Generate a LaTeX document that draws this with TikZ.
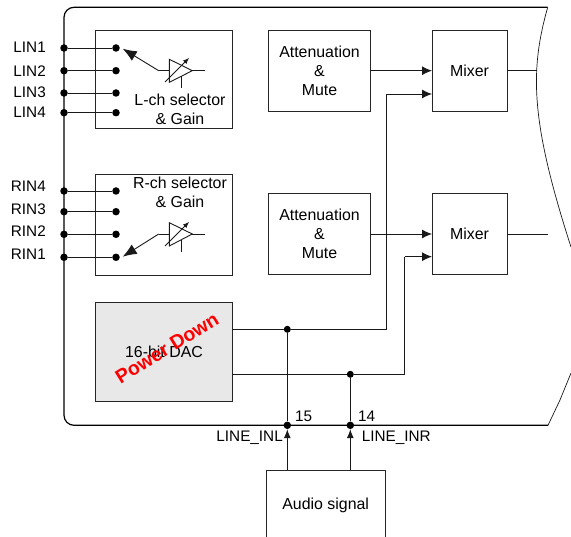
\documentclass[tikz,border=0pt]{standalone}
\usepackage{fontspec}
\setmainfont{Liberation Sans}
\usetikzlibrary{arrows.meta}
\tikzset{
  px/.style={x=1pt,y=-1pt},
  blockbox/.style={draw=black!85,line width=0.9pt,anchor=north west,inner sep=0pt,outer sep=0pt,align=center},
  lbl/.style={font=\fontsize{15.3}{19}\selectfont,inner sep=0pt,align=center},
  blk/.style={font=\fontsize{15.9}{19}\selectfont,inner sep=0pt,align=center},
  wire/.style={draw=black!90,line width=0.9pt},
  sig/.style={wire,-{Latex[length=10pt,width=9pt]}},
  sigup/.style={wire,-{Latex[length=9pt,width=7pt]}},
  selarrow/.style={wire,-{Latex[length=14pt,width=11pt]}},
  gainarrow/.style={wire,-{Latex[length=6pt,width=5pt]}},
  dotn/.style={circle,fill=black,inner sep=0pt,minimum size=7.5pt},
  frame/.style={draw=black,line width=1.2pt}
}
\begin{document}
\begin{tikzpicture}[px]
\useasboundingbox (0,0) rectangle (571,537);
% frame
\coordinate (tr) at (547.7,7.3);
\coordinate (br) at (548,425.3);
\draw[frame,rounded corners=10pt] (tr) -- (64,7.3) -- (64,425.3) -- (br);
\draw[wire,line width=0.7pt] (tr) .. controls (530,70) and (530,120) .. (571,247);
\draw[wire,line width=0.7pt] (br) -- (560,400) -- (571,373);
% blocks
\node[blockbox,minimum width=136.6pt,minimum height=97.3pt] (lsel) at (95.7,30.7) {};
\node[blockbox,minimum width=136.6pt,minimum height=101.3pt] (rsel) at (95.7,174) {};
\node[blockbox,minimum width=101.7pt,minimum height=80.7pt] (att1) at (268.3,30.3) {};
\node[blockbox,minimum width=102.4pt,minimum height=81.3pt] (att2) at (268.3,193) {};
\node[blockbox,minimum width=75pt,minimum height=81pt] (mix1) at (432,30) {};
\node[blockbox,minimum width=75pt,minimum height=81.3pt] (mix2) at (432,193) {};
\node[blockbox,fill=black!9,minimum width=136.3pt,minimum height=99pt] (dac) at (95.7,302.3) {};
\node[blockbox,minimum width=118.3pt,minimum height=70pt] (aud) at (266.7,470.3) {};
% text in blocks
\node[blk] at (180,109.5) {L-ch selector\\\& Gain};
\node[blk] at (180,192.5) {R-ch selector\\\& Gain};
\node[blk] at (319.5,70.7) {Attenuation\\\&\\Mute};
\node[blk] at (319.5,233.7) {Attenuation\\\&\\Mute};
\node[blk] at (469.5,70.7) {Mixer};
\node[blk] at (469.5,233.7) {Mixer};
\node[blk] at (164,351.5) {16-bit DAC};
\node[blk] at (325.7,505) {Audio signal};
\node[lbl,font=\fontsize{19.5}{24}\bfseries\selectfont,text=red,rotate=31.5] at (167,348) {Power Down};
% left inputs
\foreach \n/\y/\ly/\t in {a/48/47.5/LIN1,b/70.7/70.7/LIN2,c/93/92.5/LIN3,d/112.7/112/LIN4,e/191/186.7/RIN4,f/211.7/209/RIN3,g/234.3/231/RIN2,h/257.3/254/RIN1}{
  \node[dotn] (o\n) at (64,\y) {};
  \node[dotn] (i\n) at (116,\y) {};
  \draw[wire] (o\n) -- (i\n);
  \node[lbl,anchor=east] at (46,\ly) {\t};
}
% amp L
\coordinate (la) at (169.3,59.3);\coordinate (lb) at (169.3,82.3);\coordinate (lc) at (192.3,70.7);
\draw[wire] (la) -- (lb) -- (lc) -- cycle;
\coordinate (lin) at (158.7,70.7);\coordinate (lout) at (204.7,70.7);
\draw[wire] (lin) -- (la |- lin) (lc) -- (lout);
\draw[gainarrow] (165,82) -- (189,58);
\draw[wire] (181,76) -- (181,87.7);
\draw[selarrow] (lin) -- (122.7,48.7);
% amp R
\coordinate (ra) at (169.3,222.7);\coordinate (rb) at (169.3,246);\coordinate (rc) at (192.3,234);
\draw[wire] (ra) -- (rb) -- (rc) -- cycle;
\coordinate (rin) at (158.7,234);\coordinate (rout) at (204.7,234);
\draw[wire] (rin) -- (ra |- rin) (rc) -- (rout);
\draw[gainarrow] (165,246) -- (189,222);
\draw[wire] (181,240) -- (181,251.7);
\draw[selarrow] (rin) -- (122.7,256.7);
% attenuation to mixer
\draw[sig] (att1.east |- 0,70.7) -- (mix1.west |- 0,70.7);
\draw[sig] (att2.east |- 0,234) -- (mix2.west |- 0,234);
\coordinate (m1r) at (537,70.7);
\draw[wire] (mix1.east |- m1r) -- (m1r);
\coordinate (m2r) at (548,234);
\draw[wire] (mix2.east |- m2r) -- (m2r);
% DAC
\node[dotn,minimum size=7pt] (j1) at (287.3,329.3) {};
\node[dotn,minimum size=7pt] (j2) at (350.3,374.3) {};
\node[dotn] (p15) at (287.3,425.3) {};
\node[dotn] (p14) at (350.3,425.3) {};
\coordinate (v1) at (386.7,94);
\coordinate (v2) at (404.7,256.7);
\draw[wire] (dac.east |- j1) -- (j1) -- (v1 |- j1) -- (v1);
\draw[sig] (v1) -- (mix1.west |- v1);
\draw[wire] (dac.east |- j2) -- (j2) -- (v2 |- j2) -- (v2);
\draw[sig] (v2) -- (mix2.west |- v2);
\draw[wire] (j1) -- (p15);
\draw[wire] (j2) -- (p14);
\draw[sigup] (aud.north -| p15) -- (p15);
\draw[sigup] (aud.north -| p14) -- (p14);
\node[lbl,anchor=west] at (295,416) {15};
\node[lbl,anchor=west] at (358,416) {14};
\node[lbl,anchor=east] at (283,437.5) {LINE\_INL};
\node[lbl,anchor=west] at (361.7,437.5) {LINE\_INR};
\end{tikzpicture}
\end{document}
